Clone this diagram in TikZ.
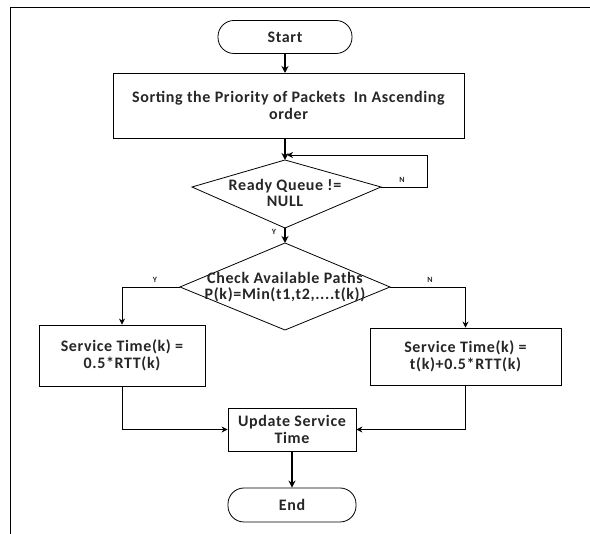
\documentclass[tikz,border=0pt]{standalone}
\usepackage{fontspec}
\setmainfont{Carlito}[LetterSpace=4]
\usetikzlibrary{arrows.meta}
\begin{document}
\begin{tikzpicture}[x=1pt,y=-1pt,
  every node/.style={font=\fontsize{16}{16.5}\selectfont\bfseries, text=black!85},
  box/.style={draw, line width=0.8pt, align=center, inner sep=2pt},
  term/.style={draw, line width=0.8pt, rounded corners=16pt, minimum width=134pt, minimum height=33pt},
  lbl/.style={font=\fontsize{8}{9}\selectfont\bfseries},
  arr/.style={-{Stealth[length=7pt,width=7pt]}, line width=1.3pt},
  arrt/.style={-{Stealth[length=6pt,width=6pt]}, line width=0.8pt},
  ln/.style={line width=0.8pt}]
\useasboundingbox (0,0) rectangle (590,534);
% frame
\draw[line width=1pt] (10,534) -- (10,8) -- (590,8);
% start
\node[term] (start) at (285,37) {Start};
% sorting box
\node[box, minimum width=351pt, minimum height=65pt] (sort) at (288.5,105.5) {Sorting the Priority of Packets\ \ In Ascending\\order};
% diamond 1
\coordinate (d1t) at (285,160);
\coordinate (d1b) at (285,228);
\coordinate (d1l) at (192,187);
\coordinate (d1r) at (381,187);
\draw[ln] (d1t) -- (d1r) -- (d1b) -- (d1l) -- cycle;
\node[align=center] (d1) at (285,193) {Ready Queue !=\\NULL};
% diamond 2
\coordinate (d2t) at (285,243);
\coordinate (d2b) at (285,330);
\coordinate (d2l) at (180,287);
\coordinate (d2r) at (390,287);
\draw[ln] (d2t) -- (d2r) -- (d2b) -- (d2l) -- cycle;
\node[align=center] (d2) at (285,287) {Check Available Paths\\P(k)=Min(t1,t2,....t(k))};
% service boxes
\node[box, minimum width=166pt, minimum height=61pt] (sl) at (122,355.5) {Service Time(k) =\\0.5*RTT(k)};
\node[box, minimum width=191pt, minimum height=57pt] (sr) at (465.5,356.5) {Service Time(k) =\\t(k)+0.5*RTT(k)};
% update
\node[box, minimum width=128pt, minimum height=43pt] (up) at (292,429.5) {Update Service\\Time};
% end
\node[term, minimum width=128pt, minimum height=34pt] (end) at (292,505) {End};
% arrows
\draw[arr] (start.south) -- (285,73);
\draw[arr] (285,138) -- (d1t);
\coordinate (loopin) at (287,155);
\draw[arrt] (d1r) -- (427,187) -- (427,155) -- (loopin);
\node[lbl] (n1) at (402,180) {N};
\draw[arr] (d1b) -- (d2t);
\node[lbl] (y1) at (274,232) {Y};
\draw[arrt] (d2l) -| (sl.north);
\node[lbl] (y2) at (155,280) {Y};
\draw[arrt] (d2r) -| (sr.north);
\node[lbl] (n2) at (430,280) {N};
\draw[arrt] (sl.south) |- (up.west);
\draw[arrt] (sr.south) |- (up.east);
\draw[arr] (up.south) -- (end.north);
\end{tikzpicture}
\end{document}
